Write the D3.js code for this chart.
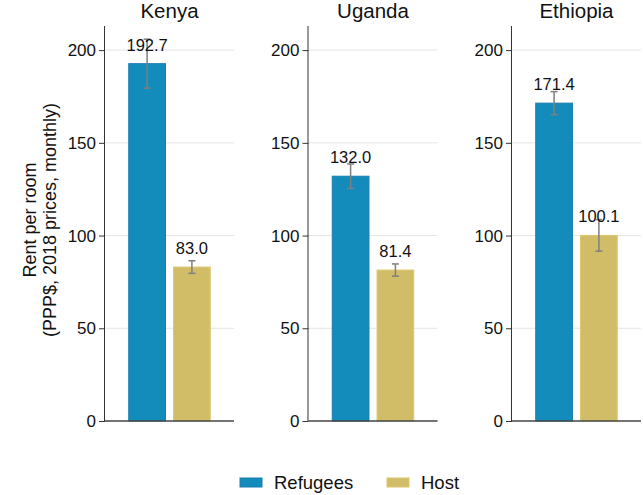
<!DOCTYPE html>
<html>
<head>
<meta charset="utf-8">
<script src="https://cdn.jsdelivr.net/npm/d3@7"></script>
<style>
  body { margin: 0; background: #fff; }
  svg text { font-family: "Liberation Sans", Arial, sans-serif; fill: #111; }
</style>
</head>
<body>
<div id="chart-area"></div>
<script>
// data
const countries = ["Kenya", "Uganda", "Ethiopia"];
const groups = ["Refugees", "Host"];
const refugeeRent = [192.7, 132.0, 171.4];
const hostRent = [83.0, 81.4, 100.1];
const refugeeErr = [13.2, 6.6, 6.2];
const hostErr = [3.4, 3.3, 8.5];
const yTicks = [0, 50, 100, 150, 200];

const colors = { Refugees: "#138bbb", Host: "#d1bd68" };
const strokes = { Refugees: "#1a7fb0", Host: "#dcc86e" };

const width = 643, height = 495;
const plotTop = 26, plotBottom = 421;

const svg = d3.select("#chart-area")
    .append("svg")
    .attr("width", width)
    .attr("height", height);

// panel positions
const xPanel = d3.scaleBand()
    .domain(countries)
    .range([105, 641])
    .paddingInner(0.366)
    .paddingOuter(0);

const y = d3.scaleLinear()
    .domain([0, 213])
    .range([plotBottom, plotTop]);

const xBar = d3.scaleBand()
    .domain(groups)
    .range([0, xPanel.bandwidth()])
    .paddingInner(0.18)
    .paddingOuter(0.53);

const rows = countries.map((c, i) => ({
    country: c,
    bars: [
        { key: "Refugees", value: refugeeRent[i], err: refugeeErr[i] },
        { key: "Host", value: hostRent[i], err: hostErr[i] }
    ]
}));

const panels = svg.selectAll(".panel")
    .data(rows)
    .enter().append("g")
    .attr("class", "panel")
    .attr("transform", d => `translate(${xPanel(d.country)},0)`);

// gridlines
panels.each(function () {
    const g = d3.select(this);
    g.selectAll(".grid")
        .data(yTicks.filter(t => t > 0))
        .enter().append("line")
        .attr("x1", 0)
        .attr("x2", xPanel.bandwidth())
        .attr("y1", d => y(d))
        .attr("y2", d => y(d))
        .style("stroke", "#e4e4e4")
        .style("stroke-width", 1);
});

// y axis
panels.append("g")
    .attr("class", "y-axis")
    .call(d3.axisLeft(y).tickValues(yTicks).tickSize(6).tickPadding(3).tickFormat(d3.format("d")))
    .call(g => g.select(".domain").attr("d", `M-0.5,${plotTop}V${plotBottom}`).style("stroke", "#333"))
    .call(g => g.selectAll(".tick line").style("stroke", "#333"))
    .call(g => g.selectAll(".tick text")
        .style("font-size", "17px")
        .style("font-family", "'Liberation Sans', Arial, sans-serif")
        .style("fill", "#111"));

// titles
panels.append("text")
    .attr("x", xPanel.bandwidth() / 2)
    .attr("y", 18)
    .attr("text-anchor", "middle")
    .style("font-size", "20.5px")
    .text(d => d.country);

// bars
panels.selectAll(".bar")
    .data(d => d.bars)
    .enter().append("rect")
    .attr("class", "bar")
    .attr("x", d => xBar(d.key))
    .attr("width", xBar.bandwidth())
    .attr("y", d => y(d.value))
    .attr("height", d => y(0) - y(d.value))
    .style("fill", d => colors[d.key])
    .style("stroke", d => strokes[d.key])
    .style("stroke-width", 1);

// baseline
panels.append("line")
    .attr("x1", 0)
    .attr("x2", xPanel.bandwidth())
    .attr("y1", y(0))
    .attr("y2", y(0))
    .style("stroke", "#444")
    .style("stroke-width", 1.5);

// error bars
const errs = panels.selectAll(".err")
    .data(d => d.bars)
    .enter().append("g")
    .attr("class", "err")
    .attr("transform", d => `translate(${xBar(d.key) + xBar.bandwidth() / 2},0)`)
    .style("stroke", "#7f7f7f")
    .style("stroke-width", 1.5);

errs.append("line")
    .attr("y1", d => y(d.value - d.err))
    .attr("y2", d => y(d.value + d.err));
errs.append("line")
    .attr("x1", -3.5).attr("x2", 3.5)
    .attr("y1", d => y(d.value - d.err))
    .attr("y2", d => y(d.value - d.err));
errs.append("line")
    .attr("x1", -3.5).attr("x2", 3.5)
    .attr("y1", d => y(d.value + d.err))
    .attr("y2", d => y(d.value + d.err));

// value labels
panels.selectAll(".val")
    .data(d => d.bars)
    .enter().append("text")
    .attr("class", "val")
    .attr("x", d => xBar(d.key) + xBar.bandwidth() / 2)
    .attr("y", d => y(d.value) - 13)
    .attr("text-anchor", "middle")
    .style("font-size", "16.5px")
    .text(d => d.value.toFixed(1));

// y axis title
const yTitle = svg.append("text")
    .attr("transform", "translate(0,220) rotate(-90)")
    .attr("text-anchor", "middle")
    .style("font-size", "18px");
yTitle.append("tspan").attr("x", 0).attr("y", 36).text("Rent per room");
yTitle.append("tspan").attr("x", 0).attr("y", 56).text("(PPP$, 2018 prices, monthly)");

// legend
const legendX = [240, 387];
const legend = svg.selectAll(".legend")
    .data(groups)
    .enter().append("g")
    .attr("class", "legend")
    .attr("transform", (d, i) => `translate(${legendX[i]},478)`);

legend.append("rect")
    .attr("width", 22)
    .attr("height", 9)
    .style("fill", d => colors[d])
    .style("stroke", d => strokes[d]);

legend.append("text")
    .attr("x", 34)
    .attr("y", 11)
    .style("font-size", "18.5px")
    .text(d => d);
</script>
</body>
</html>
